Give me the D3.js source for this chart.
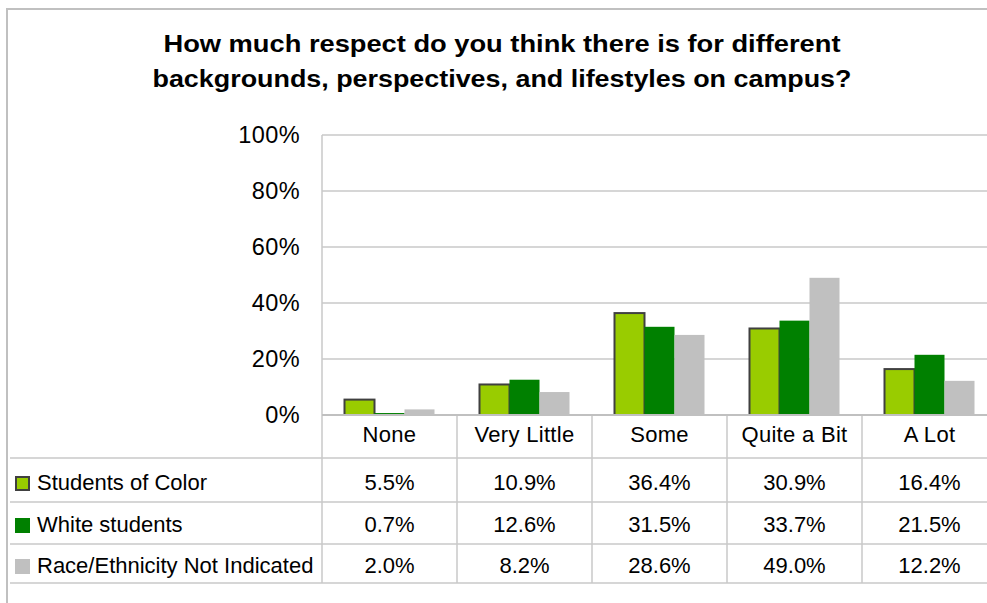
<!DOCTYPE html>
<html>
<head>
<meta charset="utf-8">
<script src="https://cdn.jsdelivr.net/npm/d3@7"></script>
<style>
  html, body { margin: 0; padding: 0; background: #fff; overflow: hidden; }
  svg { display: block; font-family: "Liberation Sans", Arial, sans-serif; }
</style>
</head>
<body>
<svg id="chart" width="987" height="603"></svg>
<script>
const titleLines = [
  "How much respect do you think there is for different",
  "backgrounds, perspectives, and lifestyles on campus?"
];
const categories = ["None", "Very Little", "Some", "Quite a Bit", "A Lot"];
const seriesNames = ["Students of Color", "White students", "Race/Ethnicity Not Indicated"];
const studentsOfColor = [5.5, 10.9, 36.4, 30.9, 16.4];
const whiteStudents = [0.7, 12.6, 31.5, 33.7, 21.5];
const notIndicated = [2.0, 8.2, 28.6, 49.0, 12.2];
const yTicks = [0, 20, 40, 60, 80, 100];
const seriesColors = ["#99cc00", "#008000", "#c0c0c0"];
const seriesStrokes = ["#404040", "none", "none"];

const seriesValues = [studentsOfColor, whiteStudents, notIndicated];

const svg = d3.select("#chart");
const gridColor = "#c8c8c8";

// outer frame
svg.append("rect")
  .attr("x", 7).attr("y", 9).attr("width", 1100).attr("height", 700)
  .attr("fill", "none").attr("stroke", "#c0c0c0").attr("stroke-width", 2);

// title
const titleLens = [677, 699];
svg.append("g").selectAll("text").data(titleLines).join("text")
  .attr("x", 502).attr("y", (d, i) => 52 + i * 35)
  .attr("text-anchor", "middle")
  .attr("font-size", 23).attr("font-weight", "bold").attr("fill", "#000")
  .attr("textLength", (d, i) => titleLens[i])
  .attr("lengthAdjust", "spacingAndGlyphs")
  .text(d => d);

const plotLeft = 322, colW = 135;
const x0 = d3.scaleBand().domain(categories)
  .range([plotLeft, plotLeft + colW * categories.length]).paddingInner(0).paddingOuter(0);
const x1 = d3.scaleBand().domain(d3.range(seriesNames.length))
  .range([0, x0.bandwidth()]).paddingInner(0).paddingOuter(0.75);
const y = d3.scaleLinear().domain([0, 100]).range([415, 135]);

// gridlines
svg.append("g").selectAll("line").data(yTicks.filter(t => t > 0)).join("line")
  .attr("x1", plotLeft).attr("x2", 987)
  .attr("y1", d => y(d)).attr("y2", d => y(d))
  .attr("stroke", gridColor).attr("stroke-width", 1.5);

// y axis labels
const yAxis = d3.axisLeft(y).tickValues(yTicks).tickSize(0).tickPadding(0)
  .tickFormat(d => d + "%");
const yg = svg.append("g").attr("transform", `translate(300,0)`).call(yAxis);
yg.select(".domain").remove();
yg.selectAll("text").attr("font-size", 23.5).attr("font-family", "Liberation Sans, Arial, sans-serif")
  .attr("fill", "#000").attr("dy", "0.3em").attr("letter-spacing", 0.4);

// bars
const bars = svg.append("g");
seriesValues.forEach((vals, s) => {
  bars.append("g").selectAll("rect").data(vals).join("rect")
    .attr("x", (d, i) => x0(categories[i]) + x1(s))
    .attr("y", d => y(d))
    .attr("width", x1.bandwidth())
    .attr("height", d => y(0) - y(d))
    .attr("fill", seriesColors[s])
    .attr("stroke", seriesStrokes[s])
    .attr("stroke-width", seriesStrokes[s] === "none" ? 0 : 2);
});

// table
const rowTops = [415, 458, 502, 544, 583];
const table = svg.append("g");
table.selectAll("line.h").data(rowTops.slice(1)).join("line").attr("class", "h")
  .attr("x1", 10).attr("x2", 987).attr("y1", d => d).attr("y2", d => d)
  .attr("stroke", gridColor).attr("stroke-width", 1.5);
table.selectAll("line.v").data(categories.slice(1)).join("line").attr("class", "v")
  .attr("x1", d => x0(d)).attr("x2", d => x0(d))
  .attr("y1", 415).attr("y2", 583)
  .attr("stroke", gridColor).attr("stroke-width", 1.5);
table.append("line").attr("x1", plotLeft).attr("x2", plotLeft).attr("y1", 135).attr("y2", 583)
  .attr("stroke", gridColor).attr("stroke-width", 1.5);
table.append("line").attr("x1", plotLeft).attr("x2", 987).attr("y1", y(0)).attr("y2", y(0))
  .attr("stroke", "#c0c0c0").attr("stroke-width", 2);

// category labels
table.append("g").selectAll("text").data(categories).join("text")
  .attr("x", d => x0(d) + x0.bandwidth() / 2).attr("y", 442)
  .attr("text-anchor", "middle").attr("font-size", 22).attr("letter-spacing", 0.3)
  .text(d => d);

// legend rows with values
const baselines = [490, 532, 573];
seriesNames.forEach((name, s) => {
  const g = table.append("g");
  const sq = s === 0 ? 13 : 15;
  g.append("rect")
    .attr("x", s === 0 ? 16 : 15).attr("y", baselines[s] - 14 + (s === 0 ? 1 : 0))
    .attr("width", sq).attr("height", sq)
    .attr("fill", seriesColors[s])
    .attr("stroke", seriesStrokes[s]).attr("stroke-width", seriesStrokes[s] === "none" ? 0 : 2);
  g.append("text").attr("x", 37).attr("y", baselines[s])
    .attr("font-size", 22).text(name);
  g.selectAll("text.v").data(seriesValues[s]).join("text").attr("class", "v")
    .attr("x", (d, i) => x0(categories[i]) + x0.bandwidth() / 2)
    .attr("y", baselines[s])
    .attr("text-anchor", "middle").attr("font-size", 22)
    .text(d => d.toFixed(1) + "%");
});
</script>
</body>
</html>
